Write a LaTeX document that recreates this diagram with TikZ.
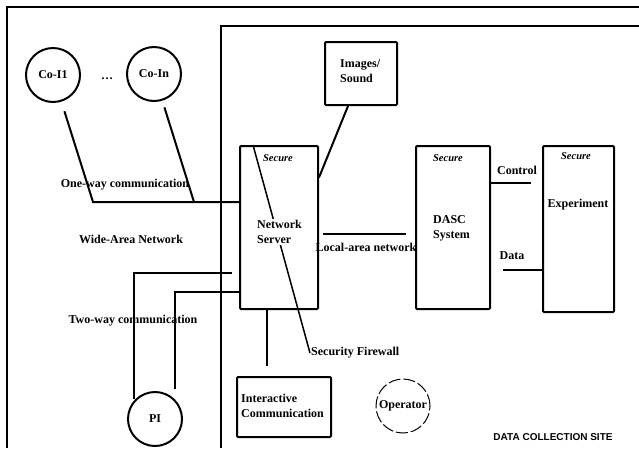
\documentclass[tikz,border=0pt]{standalone}
\usepackage{fontspec}
\setmainfont{Liberation Serif}
\newfontfamily\sitefont{Liberation Sans}
\usetikzlibrary{positioning}

\begin{document}
\begin{tikzpicture}[
  x=1pt, y=-1pt,
  unit/.style={rectangle, draw, line width=2pt, rounded corners=1pt, inner sep=0pt},
  site/.style={circle, draw, line width=2pt, minimum size=54pt, inner sep=0pt, font=\fontsize{12}{14}\selectfont\bfseries},
  link/.style={line width=2pt},
  lbl/.style={font=\fontsize{12}{15}\selectfont\bfseries, inner sep=1pt, align=left},
  tag/.style={font=\fontsize{10.5}{12}\selectfont\bfseries\itshape, inner sep=1pt}
]
  \useasboundingbox (0,0) rectangle (639,448);
  % outer and inner frames
  \draw[link] (639,7) -- (7,7) -- (7,448);
  \draw[link] (639,26) -- (221,26) -- (221,448);

  % investigators and operator
  \node[site] (coi1) at (53,75) {Co-I1};
  \node[site] (coin) at (154,74) {Co-In};
  \node[lbl] (dots) at (107,79) {\dots};
  \node[site] (pi) at (155,419) {PI};
  \node[site, line width=1pt, dash pattern=on 12pt off 3pt] (operator) at (403,406) {Operator};

  % boxes
  \node[unit, minimum width=78pt, minimum height=163pt] (server) at (279,227.5) {};
  \node[unit, minimum width=72pt, minimum height=63pt] (images) at (361,73.5) {};
  \node[unit, minimum width=74pt, minimum height=163pt] (dasc) at (453,227.5) {};
  \node[unit, minimum width=71pt, minimum height=166pt] (experiment) at (578.5,229) {};
  \node[unit, minimum width=94pt, minimum height=60pt] (interactive) at (284,407) {};

  % texts in boxes
  \node[tag] (secserver) at (278,158) {Secure};
  \node[tag] (secdasc) at (448,158) {Secure};
  \node[tag] (secexp) at (576,156) {Secure};
  \node[lbl, anchor=west] (imagestext) at (339,71) {Images/\\Sound};
  \node[lbl, anchor=west] (dasctext) at (432,228) {DASC\\System};
  \node[lbl] (exptext) at (578,205) {Experiment};
  \node[lbl, anchor=west] (intertext) at (240,406) {Interactive\\Communication};

  % free labels
  \node[lbl] (oneway lbl) at (125,185) {One-way communication};
  \node[lbl] (wan lbl) at (131,239) {Wide-Area Network};
  \node[lbl] (twoway lbl) at (133,321) {Two-way communication};
  \node[lbl] (lan lbl) at (366,247) {Local-area network};
  \node[lbl] (control lbl) at (517,170) {Control};
  \node[lbl] (data lbl) at (512,256) {Data};
  \node[lbl, anchor=west] (firewall) at (310,353) {Security Firewall};
  \node[font=\sitefont\fontsize{10}{12}\selectfont\bfseries] (site lbl) at (553,437) {DATA COLLECTION SITE};

  % one-way lines
  \coordinate (oneway) at (93,202);
  \coordinate (onewayn) at (194,202);
  \draw[link, shorten <=10pt] (coi1) -- (oneway) -- (oneway -| server.west);
  \draw[link, shorten <=7pt] (coin) -- (onewayn);

  % two-way lines
  \coordinate (twowaya) at (134,273);
  \coordinate (twowayb) at (175,292);
  \draw[link, shorten <=7pt] (server.west |- twowaya) -- (twowaya) -- (twowaya |- pi.north west);
  \draw[link, shorten >=10pt] (server.west |- twowayb) -- (twowayb) -- (twowayb |- pi.north east);

  % site links
  \draw[link] ([xshift=-13pt]images.south) -- ([yshift=50pt]server.east);
  \draw[link] ([xshift=4pt,yshift=-6.5pt]server.east) -- ([xshift=-9pt,yshift=-6.5pt]dasc.west);
  \coordinate (ctl) at ([yshift=44.5pt]dasc.east);
  \draw[link, shorten >=11pt] (ctl) -- (ctl -| experiment.west);
  \coordinate (dat) at ([yshift=-41pt]experiment.west);
  \draw[link, shorten >=12pt] (dat) -- (dat -| dasc.east);
  \coordinate (fwd) at ([xshift=-12pt]server.south);
  \draw[link, shorten >=10pt] (fwd) -- (fwd |- interactive.north);

  % firewall
  \draw[line width=1.5pt] ([xshift=14pt]server.north west) -- (firewall.west);
  \node[lbl, anchor=west, fill=white] (servertext) at (256,232) {Network\\Server};
\end{tikzpicture}
\end{document}
